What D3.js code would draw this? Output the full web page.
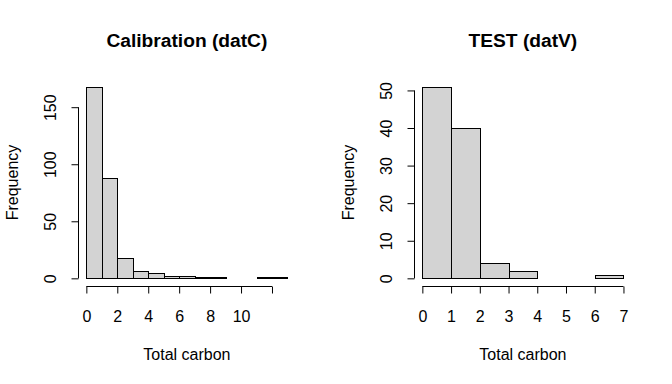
<!DOCTYPE html>
<html>
<head>
<meta charset="utf-8">
<script src="https://cdn.jsdelivr.net/npm/d3@7"></script>
<style>
  body { margin: 0; background: #fff; }
  svg text { font-family: "Liberation Sans", Arial, sans-serif; fill: #000; }
</style>
</head>
<body>
<div id="chart"></div>
<script>
// histogram data
var calBreaks = [0, 1, 2, 3, 4, 5, 6, 7, 8, 9, 10, 11, 12, 13];
var calCounts = [168, 88, 18, 6, 5, 2, 2, 1, 1, 0, 0, 1, 1];
var calXTicks = [0, 2, 4, 6, 8, 10, 12];
var calXLabels = ["0", "2", "4", "6", "8", "10", ""];
var calYTicks = [0, 50, 100, 150];

var testBreaks = [0, 1, 2, 3, 4, 5, 6, 7];
var testCounts = [51, 40, 4, 2, 0, 0, 1];
var testXTicks = [0, 1, 2, 3, 4, 5, 6, 7];
var testXLabels = ["0", "1", "2", "3", "4", "5", "6", "7"];
var testYTicks = [0, 10, 20, 30, 40, 50];

var titles = ["Calibration (datC)", "TEST (datV)"];
var xLabel = "Total carbon";
var yLabel = "Frequency";

var svg = d3.select("#chart").append("svg")
  .attr("width", 672)
  .attr("height", 384);

// plot region inside each half (R default mfrow margins)
var plotL = 78.3, plotR = 295.5, plotT = 79, plotB = 286;

function drawHist(offset, title, breaks, counts, xTicks, xLabels, yTicks) {
  var g = svg.append("g").attr("transform", "translate(" + offset + ",0)");

  var xmin = breaks[0], xmax = breaks[breaks.length - 1];
  var ext = (xmax - xmin) * 0.04;
  var x = d3.scaleLinear().domain([xmin - ext, xmax + ext]).range([plotL, plotR]);
  var ymax = d3.max(counts);
  var y = d3.scaleLinear().domain([-ymax * 0.04, ymax * 1.04]).range([plotB, plotT]);

  var bins = counts.map(function(c, i) { return { x0: breaks[i], x1: breaks[i + 1], n: c }; });

  g.selectAll("rect.bar").data(bins).enter().append("rect")
    .attr("class", "bar")
    .attr("x", function(d) { return Math.round(x(d.x0)) + 0.5; })
    .attr("y", function(d) { return Math.round(y(d.n)) + 0.5; })
    .attr("width", function(d) { return Math.round(x(d.x1)) - Math.round(x(d.x0)); })
    .attr("height", function(d) { return Math.round(y(0)) - Math.round(y(d.n)); })
    .attr("fill", "#d3d3d3")
    .attr("stroke", "#000")
    .attr("stroke-width", 1);

  // x axis
  var xa = g.append("g")
    .attr("transform", "translate(0," + (Math.round(plotB) + 0.5) + ")")
    .call(d3.axisBottom(x).tickValues(xTicks).tickSize(7).tickSizeOuter(0)
      .tickFormat(function(d, i) { return xLabels[i]; }));
  xa.select(".domain").remove();
  xa.append("line")
    .attr("x1", x(xTicks[0])).attr("x2", x(xTicks[xTicks.length - 1]))
    .attr("stroke", "#000");
  xa.selectAll("text")
    .attr("y", 35).attr("dy", 0)
    .style("font-size", "16px");

  // y axis
  var ya = g.append("g")
    .attr("transform", "translate(" + (Math.round(plotL) + 0.5) + ",0)")
    .call(d3.axisLeft(y).tickValues(yTicks).tickSize(7).tickSizeOuter(0));
  ya.select(".domain").remove();
  ya.append("line")
    .attr("y1", y(yTicks[0])).attr("y2", y(yTicks[yTicks.length - 1]))
    .attr("stroke", "#000");
  ya.selectAll("text")
    .attr("transform", "rotate(-90)")
    .attr("x", 0).attr("y", -23).attr("dy", 0)
    .attr("text-anchor", "middle")
    .style("font-size", "16px");

  g.selectAll(".tick line").attr("stroke", "#000");

  g.append("text")
    .attr("x", (plotL + plotR) / 2).attr("y", 46.5)
    .attr("text-anchor", "middle")
    .style("font-size", "19.2px").style("font-weight", "bold")
    .text(title);

  g.append("text")
    .attr("x", (plotL + plotR) / 2).attr("y", 360)
    .attr("text-anchor", "middle")
    .style("font-size", "16px")
    .text(xLabel);

  g.append("text")
    .attr("transform", "translate(17.5," + ((plotT + plotB) / 2) + ") rotate(-90)")
    .attr("text-anchor", "middle")
    .style("font-size", "16px")
    .text(yLabel);
}

drawHist(0, titles[0], calBreaks, calCounts, calXTicks, calXLabels, calYTicks);
drawHist(336, titles[1], testBreaks, testCounts, testXTicks, testXLabels, testYTicks);
</script>
</body>
</html>
